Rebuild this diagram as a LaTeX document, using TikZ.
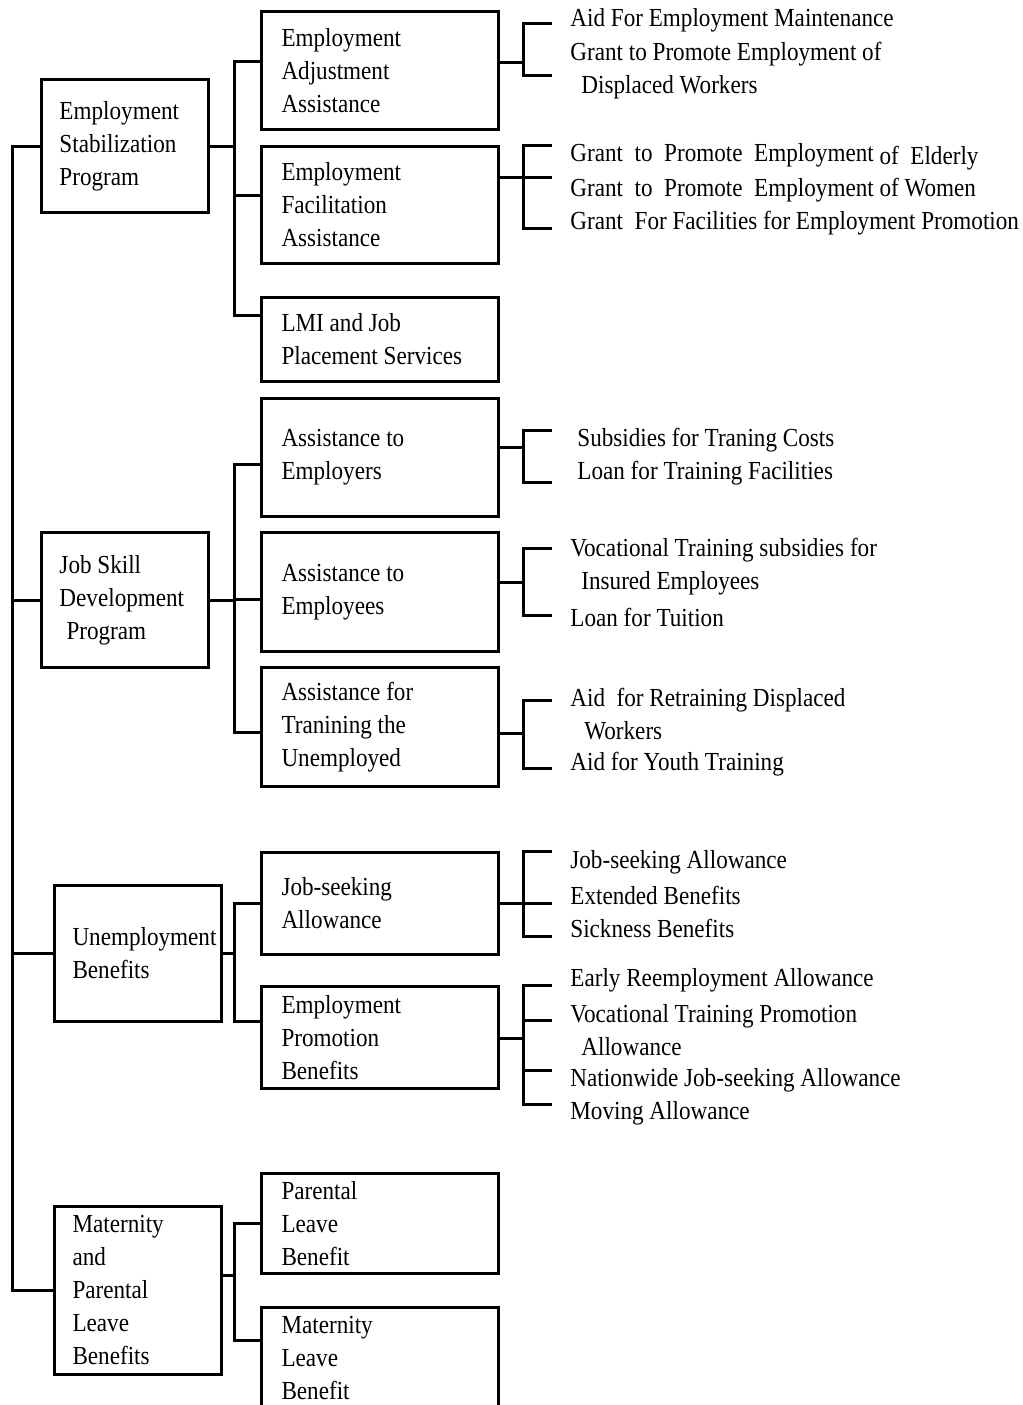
\documentclass[tikz,border=0pt]{standalone}
\usepackage{fontspec}
\setmainfont{Liberation Serif}[FakeStretch=0.89]
\usetikzlibrary{calc}

\tikzset{
  link/.style={line width=1.5pt},
  progbox/.style={draw, line width=1.5pt, anchor=north west, align=flush left,
    text width=65.5pt, inner xsep=9pt, inner ysep=2pt, minimum height=#1},
  subbox/.style={draw, line width=1.5pt, anchor=north west, align=flush left,
    text width=98.5pt, inner xsep=10pt, inner ysep=2pt, minimum height=#1},
  item/.style={anchor=west, inner sep=0pt},
}

\begin{document}
\begin{tikzpicture}[x=0.5pt, y=-0.5pt,
    every node/.style={font=\fontsize{13}{16.5}\selectfont}]
  \useasboundingbox (0,0) rectangle (1023,1405);

  % programs
  \node[progbox=66.5pt] (esp) at (40,78) {Employment\\Stabilization\\Program};
  \node[progbox=67.5pt] (jsdp) at (40,531) {Job Skill\\Development\\\hspace*{3.5pt}Program};
  \node[progbox=68pt] (ub) at (53,884) {Unemployment\\Benefits};
  \node[progbox=84pt] (mplb) at (53,1205) {Maternity\\and\\Parental\\Leave\\Benefits};

  % sub programs
  \node[subbox=59pt] (eaa) at (260,10) {Employment\\Adjustment\\Assistance};
  \node[subbox=58.5pt] (efa) at (260,145) {Employment\\Facilitation\\Assistance};
  \node[subbox=42pt] (lmi) at (260,296) {LMI and Job\\Placement Services};
  \node[subbox=59pt] (aters) at (260,397) {Assistance to\\Employers};
  \node[subbox=59.5pt] (atees) at (260,531) {Assistance to\\Employees};
  \node[subbox=59.5pt] (aftu) at (260,666) {Assistance for\\Tranining the\\Unemployed};
  \node[subbox=51pt] (jsa) at (260,851) {Job-seeking\\Allowance};
  \node[subbox=51pt] (epb) at (260,985) {Employment\\Promotion\\Benefits};
  \node[subbox=50pt] (plb) at (260,1172) {Parental\\Leave\\Benefit};
  \node[subbox=51pt] (mlb) at (260,1306) {Maternity\\Leave\\Benefit};

  % measures
  \node[item] (eaa-t1) at (570,20) {Aid For Employment Maintenance};
  \node[item, align=left] (eaa-t2) at (570,70.5) {Grant to Promote Employment of\\\hspace*{5.5pt}Displaced Workers};
  \node[item] (efa-t1) at (570,157) {Grant\ \ to\ \ Promote\ \ Employment \raisebox{-1.5pt}{of\ \ Elderly}};
  \node[item] (efa-t2) at (570,190) {Grant\ \ to\ \ Promote\ \ Employment of Women};
  \node[item] (efa-t3) at (570,223) {Grant\ \ For Facilities for Employment Promotion};
  \node[item] (aters-t1) at (577,440) {Subsidies for Traning Costs};
  \node[item] (aters-t2) at (577,473) {Loan for Training Facilities};
  \node[item, align=left] (atees-t1) at (570,566.5) {Vocational Training subsidies for\\\hspace*{5.5pt}Insured Employees};
  \node[item] (atees-t2) at (570,617) {Loan for Tuition};
  \node[item, align=left] (aftu-t1) at (570,714) {Aid\ \ for Retraining Displaced\\\hspace*{7pt}Workers};
  \node[item] (aftu-t2) at (570,764) {Aid for Youth Training};
  \node[item] (jsa-t1) at (570,862) {Job-seeking Allowance};
  \node[item] (jsa-t2) at (570,895) {Extended Benefits};
  \node[item] (jsa-t3) at (570,928) {Sickness Benefits};
  \node[item] (epb-t1) at (570,980) {Early Reemployment Allowance};
  \node[item, align=left] (epb-t2) at (570,1030) {Vocational Training Promotion\\\hspace*{5.5pt}Allowance};
  \node[item] (epb-t3) at (570,1080) {Nationwide Job-seeking Allowance};
  \node[item] (epb-t4) at (570,1113) {Moving Allowance};

  % columns of the tree
  \coordinate (trunk) at (12,0);
  \coordinate (bus) at (234,0);
  \coordinate (fork) at (523,0);
  \coordinate (tip) at (552,0);

  % where the lines meet the boxes
  \coordinate (mplb-out) at ([yshift=7.75pt]mplb.east);
  \coordinate (eaa-in) at ([yshift=4.5pt]eaa.west);
  \coordinate (efa-in) at ([yshift=4.75pt]efa.west);
  \coordinate (lmi-in) at ([yshift=12pt]lmi.west);
  \coordinate (aters-in) at ([yshift=-3.5pt]aters.west);
  \coordinate (atees-in) at ([yshift=-3.75pt]atees.west);
  \coordinate (aftu-in) at ([yshift=-2.75pt]aftu.west);
  \coordinate (epb-in) at ([yshift=8pt]epb.west);
  \coordinate (mlb-in) at ([yshift=9pt]mlb.west);
  \coordinate (eaa-out) at ([yshift=4pt]eaa.east);
  \coordinate (efa-out) at ([yshift=13.75pt]efa.east);
  \coordinate (aters-out) at ([yshift=5pt]aters.east);
  \coordinate (atees-out) at ([yshift=4.75pt]atees.east);
  \coordinate (aftu-out) at ([yshift=-3.25pt]aftu.east);
  \coordinate (epb-out) at ([yshift=-0.5pt]epb.east);

  % bracket ends
  \coordinate (eaa-a) at (552,23);
  \coordinate (eaa-b) at (552,75);
  \coordinate (efa-a) at (552,145);
  \coordinate (efa-c) at (552,228);
  \coordinate (aters-a) at (552,430);
  \coordinate (aters-b) at (552,482);
  \coordinate (atees-a) at (552,548);
  \coordinate (atees-b) at (552,615);
  \coordinate (aftu-a) at (552,700);
  \coordinate (aftu-b) at (552,768);
  \coordinate (jsa-a) at (552,851);
  \coordinate (jsa-c) at (552,936);
  \coordinate (epb-a) at (552,985);
  \coordinate (epb-b) at (552,1020);
  \coordinate (epb-c) at (552,1070);
  \coordinate (epb-d) at (552,1104);

  % trunk
  \draw[link] (esp.west) -- (esp.west -| trunk) |- (mplb.west);
  \draw[link] (jsdp.west) -- (jsdp.west -| trunk);
  \draw[link] (ub.west) -- (ub.west -| trunk);

  % programs to sub programs
  \draw[link] (esp.east) -- (esp.east -| bus);
  \draw[link] (eaa-in) -| (lmi-in -| bus) -- (lmi-in);
  \draw[link] (efa-in) -- (efa-in -| bus);
  \draw[link] (jsdp.east) -- (jsdp.east -| bus);
  \draw[link] (aters-in) -| (aftu-in -| bus) -- (aftu-in);
  \draw[link] (atees-in) -- (atees-in -| bus);
  \draw[link] (ub.east) -- (ub.east -| bus);
  \draw[link] (jsa.west) -| (epb-in -| bus) -- (epb-in);
  \draw[link] (mplb-out) -- (mplb-out -| bus);
  \draw[link] (plb.west) -| (mlb-in -| bus) -- (mlb-in);

  % sub programs to measures
  \draw[link] (eaa-out) -- (eaa-out -| fork);
  \draw[link] (eaa-a) -| (eaa-b -| fork) -- (eaa-b);
  \draw[link] (efa-out) -- (efa-out -| tip);
  \draw[link] (efa-a) -| (efa-c -| fork) -- (efa-c);
  \draw[link] (aters-out) -- (aters-out -| fork);
  \draw[link] (aters-a) -| (aters-b -| fork) -- (aters-b);
  \draw[link] (atees-out) -- (atees-out -| fork);
  \draw[link] (atees-a) -| (atees-b -| fork) -- (atees-b);
  \draw[link] (aftu-out) -- (aftu-out -| fork);
  \draw[link] (aftu-a) -| (aftu-b -| fork) -- (aftu-b);
  \draw[link] (jsa.east) -- (jsa.east -| tip);
  \draw[link] (jsa-a) -| (jsa-c -| fork) -- (jsa-c);
  \draw[link] (epb-out) -- (epb-out -| fork);
  \draw[link] (epb-a) -| (epb-d -| fork) -- (epb-d);
  \draw[link] (epb-b -| fork) -- (epb-b);
  \draw[link] (epb-c -| fork) -- (epb-c);
\end{tikzpicture}
\end{document}
